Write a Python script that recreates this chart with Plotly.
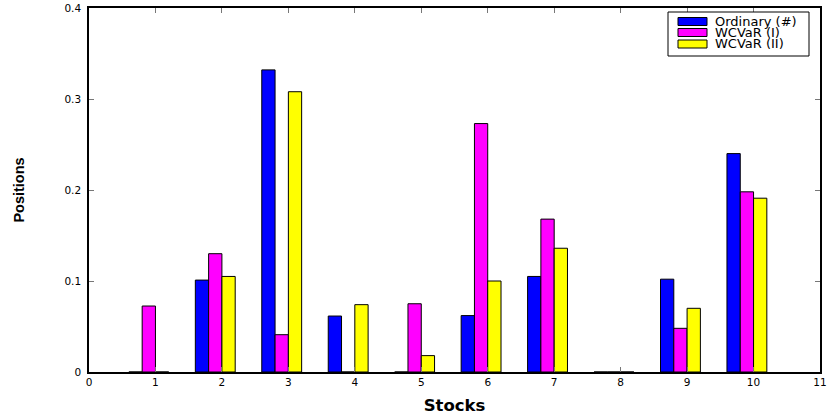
import plotly.graph_objects as go

stocks = [1, 2, 3, 4, 5, 6, 7, 8, 9, 10]
ordinary = [0.0, 0.101, 0.332, 0.0615, 0.0, 0.062, 0.105, 0.0, 0.102, 0.240]
wcvar_1 = [0.0725, 0.130, 0.041, 0.0, 0.075, 0.273, 0.168, 0.0, 0.048, 0.198]
wcvar_2 = [0.0, 0.105, 0.308, 0.074, 0.018, 0.100, 0.136, 0.0, 0.070, 0.191]
series_names = ["Ordinary (#)", "WCVaR (I)", "WCVaR (II)"]
colors = ["#0000FF", "#FF00FF", "#FFFF00"]
offsets = [-0.4, -0.2, 0.0]

W, H = 827, 419
L, R, T, B = 89, 7, 8, 47
pw, ph = W - L - R, H - T - B


def px(x):
    return (x - L) / pw


def py(y):
    return (H - B - y) / ph


fig = go.Figure()
for name, vals, col, off in zip(series_names, [ordinary, wcvar_1, wcvar_2], colors, offsets):
    fig.add_trace(go.Bar(
        x=stocks, y=vals, name=name, width=0.2, offset=off, showlegend=False,
        marker=dict(color=col, line=dict(color="black", width=1)),
    ))

axis_common = dict(
    showline=True, linecolor="black", linewidth=1.5, mirror="ticks",
    ticks="inside", ticklen=5, tickcolor="#777777", tickwidth=1,
    showgrid=False, zeroline=False, automargin=False,
    tickfont=dict(family="DejaVu Sans", size=10.5, color="black"),
)

# legend drawn as box + swatches + labels
shapes = [dict(type="rect", xref="paper", yref="paper",
               x0=px(668), x1=px(809), y0=py(56), y1=py(12),
               line=dict(color="black", width=1), fillcolor="white", layer="above")]
annotations = []
row_centers = [21.5, 32.5, 44]
for name, col, yc in zip(series_names, colors, row_centers):
    shapes.append(dict(type="rect", xref="paper", yref="paper",
                       x0=px(678), x1=px(707), y0=py(yc + 4), y1=py(yc - 4),
                       line=dict(color="black", width=1), fillcolor=col, layer="above"))
    annotations.append(dict(xref="paper", yref="paper", x=px(714), y=py(yc),
                            xanchor="left", yanchor="middle", showarrow=False,
                            text=name, borderpad=0,
                            font=dict(family="DejaVu Sans", size=13, color="black")))

fig.update_layout(
    width=W, height=H,
    margin=dict(l=L, r=R, t=T, b=B),
    plot_bgcolor="white", paper_bgcolor="white",
    barmode="overlay",
    showlegend=False,
    shapes=shapes,
    annotations=annotations,
    xaxis=dict(range=[0, 11], tickvals=list(range(0, 12)),
               title=dict(text="<b>Stocks</b>", font=dict(family="DejaVu Sans", size=16.5, color="black"), standoff=12),
               **axis_common),
    yaxis=dict(range=[0, 0.4], tickvals=[0, 0.1, 0.2, 0.3, 0.4],
               ticktext=["0", "0.1", "0.2", "0.3", "0.4"], ticklabelstandoff=4,
               title=dict(text="<b>Positions</b>", font=dict(family="Liberation Sans Narrow, Liberation Sans", size=14.5, color="black"), standoff=36),
               **axis_common),
)

fig.write_html("out.html", config={"displayModeBar": False},
               post_script="document.body.style.margin='0px';")
